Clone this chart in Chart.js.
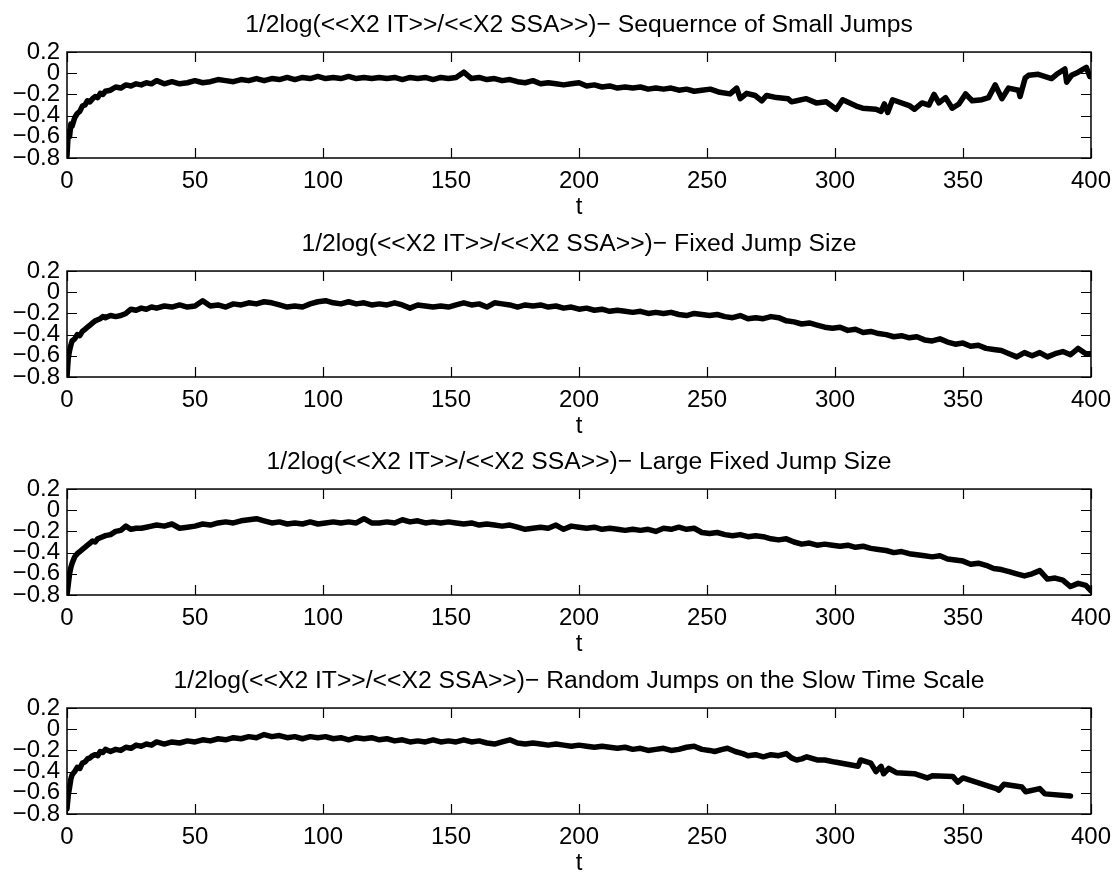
<!DOCTYPE html>
<html>
<head>
<meta charset="utf-8">
<script src="https://cdn.jsdelivr.net/npm/chart.js@4.4.1/dist/chart.umd.min.js"></script>
<style>
  html, body { margin: 0; padding: 0; background: #fff; }
  .panel { position: absolute; left: 0; width: 1120px; height: 219px; }
</style>
</head>
<body>
<div class="panel" style="top:0px"><canvas id="p1" width="1120" height="219"></canvas></div>
<div class="panel" style="top:219px"><canvas id="p2" width="1120" height="219"></canvas></div>
<div class="panel" style="top:437px"><canvas id="p3" width="1120" height="219"></canvas></div>
<div class="panel" style="top:656px"><canvas id="p4" width="1120" height="219"></canvas></div>
<script>
/* ---- data ---- */
const TITLES = [
  '1/2log(<<X2 IT>>/<<X2 SSA>>)\u2212 Sequernce of Small Jumps',
  '1/2log(<<X2 IT>>/<<X2 SSA>>)\u2212 Fixed Jump Size',
  '1/2log(<<X2 IT>>/<<X2 SSA>>)\u2212 Large Fixed Jump Size',
  '1/2log(<<X2 IT>>/<<X2 SSA>>)\u2212 Random Jumps on the Slow Time Scale'
];
const X_TICKS = [0, 50, 100, 150, 200, 250, 300, 350, 400];
const Y_TICKS = [-0.8, -0.6, -0.4, -0.2, 0, 0.2];

// shared time grid for the two fixed-jump runs
const T_FIXED = [0,0.5,1,1.5,2,3,4,5,6,7,8,9,10,11,12,13,14,15,17,19,21,23,25,27,29,31,33,35,
  38,41,44,47,50,53,56,59,62,65,68,71,74,77,80,83,86,89,92,95,98,101,104,107,110,113,116,119,
  122,125,128,131,134,137,140,143,146,149,152,155,158,161,164,167,170,173,176,179,182,185,188,191,
  194,197,200,203,206,209,212,215,218,221,224,227,230,233,236,239,242,245,248,251,254,257,260,263,
  266,269,272,275,278,281,284,287,290,293,296,299,302,305,308,311,314,317,320,323,326,329,332,335,
  338,341,344,347,350,353,356,359,362,365,368,371,374,377,380,383,386,389,392,395,398,400];

const V_FIXED = [-0.80,-0.62,-0.55,-0.50,-0.46,-0.44,-0.40,-0.41,-0.37,-0.35,-0.33,-0.31,-0.29,-0.27,-0.26,-0.25,-0.23,-0.24,
  -0.22,-0.23,-0.22,-0.20,-0.16,-0.17,-0.15,-0.16,-0.14,-0.15,
  -0.13,-0.14,-0.12,-0.14,-0.13,-0.08,-0.13,-0.12,-0.14,-0.11,-0.12,-0.10,-0.11,-0.09,-0.10,-0.12,-0.14,-0.13,-0.14,-0.11,-0.09,-0.08,
  -0.10,-0.11,-0.09,-0.11,-0.10,-0.12,-0.11,-0.12,-0.10,-0.12,-0.15,-0.12,-0.13,-0.14,-0.13,-0.14,-0.12,-0.10,-0.12,-0.11,
  -0.14,-0.10,-0.11,-0.12,-0.14,-0.12,-0.13,-0.12,-0.14,-0.13,-0.15,-0.14,-0.16,-0.15,-0.17,-0.16,-0.18,-0.17,-0.18,-0.19,
  -0.18,-0.20,-0.19,-0.20,-0.19,-0.21,-0.22,-0.20,-0.21,-0.22,-0.21,-0.23,-0.24,-0.22,-0.25,-0.24,-0.25,-0.23,-0.24,-0.27,
  -0.28,-0.30,-0.29,-0.31,-0.33,-0.34,-0.33,-0.36,-0.35,-0.38,-0.37,-0.39,-0.40,-0.42,-0.41,-0.43,-0.42,-0.45,-0.46,-0.44,
  -0.47,-0.49,-0.48,-0.51,-0.50,-0.53,-0.54,-0.55,-0.58,-0.61,-0.57,-0.60,-0.57,-0.61,-0.58,-0.56,-0.59,-0.53,-0.58,-0.58];

const V_LARGE = [-0.80,-0.70,-0.60,-0.54,-0.50,-0.44,-0.41,-0.39,-0.37,-0.35,-0.33,-0.31,-0.29,-0.30,-0.27,-0.26,-0.25,-0.24,
  -0.23,-0.20,-0.19,-0.15,-0.18,-0.17,-0.17,-0.16,-0.15,-0.14,
  -0.15,-0.13,-0.17,-0.16,-0.15,-0.13,-0.14,-0.12,-0.11,-0.12,-0.10,-0.09,-0.08,-0.10,-0.12,-0.11,-0.13,-0.12,-0.13,-0.11,-0.13,-0.12,
  -0.11,-0.12,-0.11,-0.12,-0.08,-0.12,-0.12,-0.11,-0.12,-0.09,-0.11,-0.10,-0.12,-0.11,-0.12,-0.11,-0.12,-0.13,-0.12,-0.14,
  -0.13,-0.14,-0.15,-0.14,-0.16,-0.18,-0.17,-0.16,-0.17,-0.14,-0.18,-0.15,-0.16,-0.17,-0.16,-0.18,-0.17,-0.18,-0.19,-0.18,
  -0.19,-0.18,-0.20,-0.17,-0.18,-0.16,-0.18,-0.17,-0.21,-0.22,-0.21,-0.23,-0.24,-0.23,-0.25,-0.24,-0.25,-0.27,-0.28,-0.27,
  -0.30,-0.32,-0.31,-0.33,-0.32,-0.33,-0.34,-0.33,-0.35,-0.34,-0.36,-0.37,-0.38,-0.40,-0.39,-0.41,-0.42,-0.43,-0.44,-0.43,
  -0.46,-0.47,-0.48,-0.51,-0.50,-0.52,-0.55,-0.56,-0.58,-0.60,-0.62,-0.60,-0.57,-0.65,-0.64,-0.66,-0.72,-0.69,-0.71,-0.76];

const T_SMALL = [0,0.5,1,1.5,2,3,4,5,6,7,8,9,10,11,12,13,14,15,17,19,21,23,25,27,29,31,33,35,
  38,41,44,47,50,53,56,59,62,65,68,71,74,77,80,83,86,89,92,95,98,101,104,107,110,113,116,119,
  122,125,128,131,134,137,140,143,146,149,152,155,158,161,164,167,170,173,176,179,182,185,188,191,
  194,197,200,203,206,209,212,215,218,221,224,227,230,233,236,239,242,245,248,
  251.3,255,259,261.6,263,265.5,268.8,271.4,273.3,277.2,281.7,283,285,288.8,292.7,296.6,300.5,303,
  308.3,310.8,316,318,319.3,320.6,322.5,329,331,334,336.7,338.7,340.6,343.2,345.8,348.4,351,353.6,
  357.4,360,362.6,365.2,367.8,371.7,372.3,374.3,375.6,379.4,384.6,386.6,389.8,390.5,392.4,395,398.2,399.5];

const V_SMALL = [-0.78,-0.55,-0.60,-0.48,-0.50,-0.42,-0.38,-0.36,-0.31,-0.30,-0.26,-0.27,-0.24,-0.22,-0.23,-0.19,-0.20,-0.17,
  -0.16,-0.13,-0.14,-0.11,-0.12,-0.10,-0.11,-0.09,-0.10,-0.07,
  -0.10,-0.08,-0.10,-0.09,-0.07,-0.09,-0.08,-0.06,-0.07,-0.08,-0.06,-0.07,-0.05,-0.07,-0.05,-0.06,-0.04,-0.06,-0.04,-0.05,-0.03,-0.05,
  -0.04,-0.05,-0.03,-0.05,-0.04,-0.05,-0.04,-0.05,-0.04,-0.06,-0.04,-0.05,-0.04,-0.06,-0.04,-0.05,-0.04,0.01,-0.05,-0.04,
  -0.06,-0.05,-0.07,-0.06,-0.08,-0.09,-0.07,-0.10,-0.09,-0.10,-0.11,-0.10,-0.09,-0.12,-0.11,-0.13,-0.12,-0.14,-0.13,-0.14,
  -0.13,-0.15,-0.14,-0.15,-0.14,-0.16,-0.15,-0.17,-0.16,
  -0.15,-0.18,-0.195,-0.14,-0.24,-0.19,-0.21,-0.26,-0.21,-0.23,-0.24,-0.27,-0.26,-0.24,-0.28,-0.27,-0.34,-0.25,
  -0.31,-0.33,-0.34,-0.36,-0.29,-0.37,-0.25,-0.305,-0.34,-0.28,-0.30,-0.20,-0.28,-0.23,-0.33,-0.29,-0.195,-0.26,
  -0.25,-0.23,-0.11,-0.24,-0.14,-0.16,-0.22,-0.045,-0.02,-0.01,-0.05,-0.01,0.04,-0.085,-0.02,0.01,0.055,-0.03];

const T_SLOW = [0,0.5,1,1.5,2,3,4,5,6,7,8,9,10,11,12,13,14,15,17,19,21,23,25,27,29,31,33,35,
  38,41,44,47,50,53,56,59,62,65,68,71,74,77,80,83,86,89,92,95,98,101,104,107,110,113,116,119,
  122,125,128,131,134,137,140,143,146,149,152,155,158,161,164,167,170,173,176,179,182,185,188,191,
  194,197,200,203,206,209,212,215,218,221,224,227,230,233,236,239,242,245,248,
  251,253,256,258,261,264,266,269,272,275,278,281,283,285,287,289,293,296,300,309,310,314,316,318,
  319,321,324,331,336,338,346,348,350,363,364,366,373,374.5,380,382,392];

const V_SLOW = [-0.75,-0.62,-0.55,-0.47,-0.43,-0.40,-0.36,-0.37,-0.32,-0.31,-0.28,-0.27,-0.25,-0.24,-0.25,-0.21,-0.22,-0.19,
  -0.21,-0.19,-0.20,-0.17,-0.18,-0.15,-0.16,-0.14,-0.15,-0.12,
  -0.14,-0.12,-0.13,-0.11,-0.12,-0.10,-0.11,-0.09,-0.10,-0.08,-0.09,-0.07,-0.08,-0.05,-0.07,-0.06,-0.08,-0.07,-0.09,-0.07,-0.08,-0.07,
  -0.09,-0.08,-0.10,-0.08,-0.09,-0.08,-0.10,-0.09,-0.11,-0.10,-0.12,-0.11,-0.12,-0.10,-0.12,-0.11,-0.12,-0.10,-0.12,-0.11,
  -0.13,-0.14,-0.12,-0.10,-0.13,-0.14,-0.13,-0.14,-0.15,-0.14,-0.15,-0.16,-0.15,-0.16,-0.17,-0.16,-0.17,-0.18,-0.17,-0.19,
  -0.18,-0.20,-0.19,-0.18,-0.20,-0.19,-0.17,-0.16,-0.19,
  -0.20,-0.21,-0.19,-0.18,-0.21,-0.23,-0.25,-0.24,-0.26,-0.24,-0.25,-0.23,-0.27,-0.29,-0.28,-0.26,-0.29,-0.29,-0.31,-0.35,-0.29,-0.32,-0.40,-0.35,
  -0.42,-0.37,-0.41,-0.42,-0.46,-0.44,-0.445,-0.50,-0.46,-0.56,-0.575,-0.52,-0.545,-0.59,-0.56,-0.61,-0.63];

/* ---- look ---- */
const FONT = "'Liberation Sans', Arial, Helvetica, sans-serif";
const TICK_LEN = 10;

const fmtY = v => Math.abs(v) < 1e-9 ? '0' : (v < 0 ? '\u2212' : '') + Math.abs(v).toFixed(1);

// MATLAB style box with inward tick marks on all four sides
const matlabAxes = {
  id: 'matlabAxes',
  afterDatasetsDraw(chart) {
    const { ctx, chartArea: a, scales: { x, y } } = chart;
    ctx.save();
    ctx.strokeStyle = '#000';
    ctx.lineWidth = 1.2;
    ctx.beginPath();
    X_TICKS.forEach(v => {
      const px = Math.round(x.getPixelForValue(v)) + 0.5;
      ctx.moveTo(px, a.bottom); ctx.lineTo(px, a.bottom - TICK_LEN);
      ctx.moveTo(px, a.top); ctx.lineTo(px, a.top + TICK_LEN);
    });
    Y_TICKS.forEach(v => {
      const py = Math.round(y.getPixelForValue(v)) + 0.5;
      ctx.moveTo(a.left, py); ctx.lineTo(a.left + TICK_LEN, py);
      ctx.moveTo(a.right, py); ctx.lineTo(a.right - TICK_LEN, py);
    });
    ctx.stroke();
    ctx.lineWidth = 1.5;
    ctx.strokeRect(a.left, a.top, a.right - a.left, a.bottom - a.top);
    ctx.restore();
  }
};

function makePanel(id, title, ts, vs) {
  new Chart(document.getElementById(id), {
    type: 'line',
    data: {
      datasets: [{
        data: ts.map((t, i) => ({ x: t, y: vs[i] })),
        borderColor: '#000',
        borderWidth: 5.5,
        borderJoinStyle: 'round',
        borderCapStyle: 'round',
        pointRadius: 0,
        tension: 0,
        fill: false
      }]
    },
    options: {
      responsive: false,
      animation: false,
      events: [],
      layout: { padding: { left: 0, right: 23, top: 0, bottom: 0 } },
      plugins: {
        legend: { display: false },
        tooltip: { enabled: false },
        title: {
          display: true, text: title, color: '#000', fullSize: false,
          font: { family: FONT, size: 24.7, weight: 'normal', lineHeight: 1.2 },
          padding: { top: 10, bottom: 12.4 }
        }
      },
      scales: {
        x: {
          type: 'linear', min: 0, max: 400,
          afterBuildTicks: s => { s.ticks = X_TICKS.map(v => ({ value: v })); },
          afterFit: s => { s.height = 61; },
          grid: { display: false, drawTicks: false },
          border: { display: false },
          ticks: { color: '#000', padding: 9, maxRotation: 0, autoSkip: false, font: { family: FONT, size: 24 } },
          title: { display: true, text: 't', color: '#000', padding: { top: 0, bottom: 0 },
                   font: { family: FONT, size: 24, lineHeight: 1.0 } }
        },
        y: {
          min: -0.8, max: 0.2,
          afterBuildTicks: s => { s.ticks = Y_TICKS.map(v => ({ value: v })); },
          afterFit: s => { s.width = 67; },
          grid: { display: false, drawTicks: false },
          border: { display: false },
          ticks: { color: '#000', padding: 7, autoSkip: false, callback: fmtY, font: { family: FONT, size: 24 } }
        }
      }
    },
    plugins: [matlabAxes]
  });
}

makePanel('p1', TITLES[0], T_SMALL, V_SMALL);
makePanel('p2', TITLES[1], T_FIXED, V_FIXED);
makePanel('p3', TITLES[2], T_FIXED, V_LARGE);
makePanel('p4', TITLES[3], T_SLOW, V_SLOW);
</script>
</body>
</html>
